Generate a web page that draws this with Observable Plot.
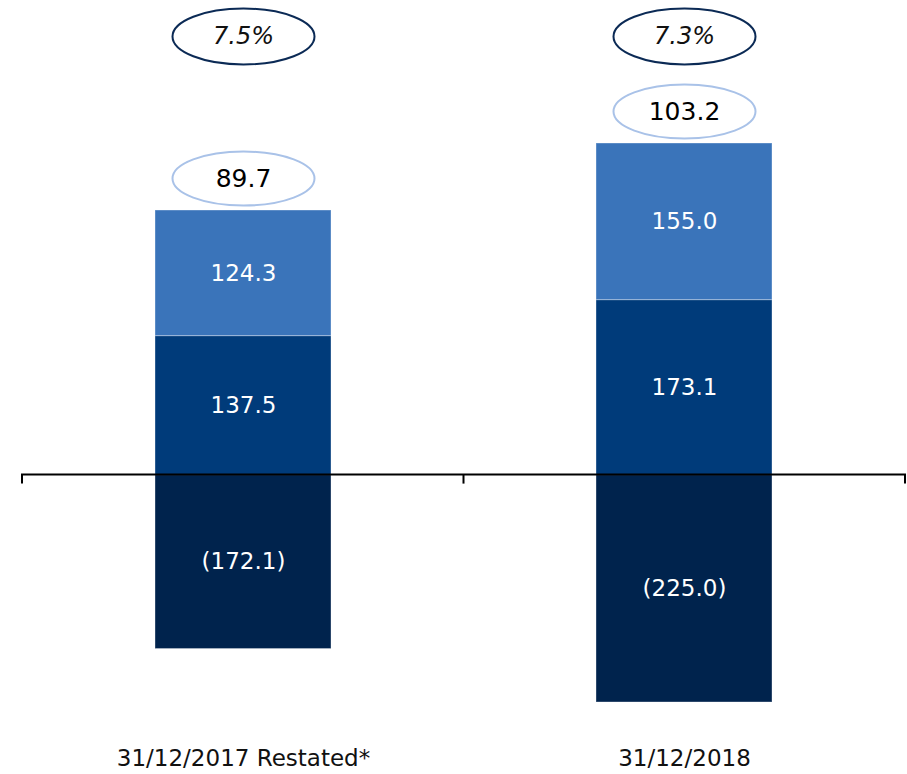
<!DOCTYPE html>
<html>
<head>
<meta charset="utf-8">
<script src="https://cdn.jsdelivr.net/npm/d3@7"></script>
<script src="https://cdn.jsdelivr.net/npm/@observablehq/plot@0.6"></script>
<style>
  html, body { margin: 0; padding: 0; background: #fff; }
  #chart { width: 907px; height: 774px; }
</style>
</head>
<body>
<div id="chart"></div>
<script>
const categories = ["31/12/2017 Restated*", "31/12/2018"];
const seriesNames = ["Negative", "Middle", "Top"];
const negativeValues = [-172.1, -225.0];
const middleValues = [137.5, 173.1];
const topValues = [124.3, 155.0];
const totals = [89.7, 103.2];
const percents = ["7.5%", "7.3%"];
const seriesColors = ["#00234D", "#003B7A", "#3A74BA"];

const seriesValues = [negativeValues, middleValues, topValues];
const data = [];
seriesNames.forEach((s, si) => {
  categories.forEach((c, ci) => data.push({category: c, series: s, value: seriesValues[si][ci]}));
});
const stackTops = categories.map((c, ci) => ({category: c, top: middleValues[ci] + topValues[ci], total: totals[ci], pct: percents[ci]}));

function ellipseSymbol(rx, ry) {
  const k = 0.5523;
  return {
    draw(ctx) {
      ctx.moveTo(rx, 0);
      ctx.bezierCurveTo(rx, ry * k, rx * k, ry, 0, ry);
      ctx.bezierCurveTo(-rx * k, ry, -rx, ry * k, -rx, 0);
      ctx.bezierCurveTo(-rx, -ry * k, -rx * k, -ry, 0, -ry);
      ctx.bezierCurveTo(rx * k, -ry, rx, -ry * k, rx, 0);
      ctx.closePath();
    }
  };
}

const fmt = v => v < 0 ? `(${Math.abs(v).toFixed(1)})` : v.toFixed(1);
const font = "'DejaVu Sans', 'Noto Sans', sans-serif";

function axisLine(index, scales, values, dimensions) {
  const {width, marginLeft, marginRight} = dimensions;
  const y0 = scales.y(0);
  const x0 = marginLeft, x2 = width - marginRight, x1 = (x0 + x2) / 2;
  const g = d3.create("svg:g").attr("stroke", "#000").attr("stroke-width", 2).attr("fill", "none");
  g.append("path").attr("d", `M${x0},${y0 + 9}V${y0}H${x2}V${y0 + 9}`);
  g.append("path").attr("d", `M${x1},${y0}V${y0 + 9}`);
  return g.node();
}

const chart = Plot.plot({
  width: 907,
  height: 774,
  marginTop: 143,
  marginBottom: 72,
  marginLeft: 22,
  marginRight: 2,
  style: {fontFamily: font, background: "#fff", overflow: "visible"},
  x: {type: "band", domain: categories, paddingInner: 0.6, paddingOuter: 0.3, axis: null},
  y: {domain: [-225.0, 328.1], axis: null},
  color: {domain: seriesNames, range: seriesColors},
  marks: [
    Plot.barY(data, {x: "category", y: "value", fill: "series", order: seriesNames, stroke: "#ffffff", strokeOpacity: 0.35, strokeWidth: 1}),
    Plot.text(data, Plot.stackY({x: "category", y: "value", z: "series", order: seriesNames, text: d => fmt(d.value), fill: "#fff", fontSize: 23})),
    axisLine,
    Plot.axisX({tickSize: 0, tickPadding: 47, fontSize: 23, fill: "#111", fontFamily: font, label: null}),
    Plot.dot(stackTops, {x: "category", y: "top", dy: -32, symbol: ellipseSymbol(71, 27), fill: "#fff", stroke: "#A9C2E8", strokeWidth: 2}),
    Plot.text(stackTops, {x: "category", y: "top", dy: -32, text: d => d.total.toFixed(1), fill: "#000", fontSize: 25}),
    Plot.dot(stackTops, {x: "category", frameAnchor: "top", dy: -107, symbol: ellipseSymbol(71, 28), fill: "#fff", stroke: "#0B2A55", strokeWidth: 2}),
    Plot.text(stackTops, {x: "category", frameAnchor: "top", dy: -107, lineAnchor: "middle", text: "pct", fill: "#111", fontSize: 24, fontStyle: "italic"})
  ]
});
document.getElementById("chart").append(chart);
</script>
</body>
</html>
